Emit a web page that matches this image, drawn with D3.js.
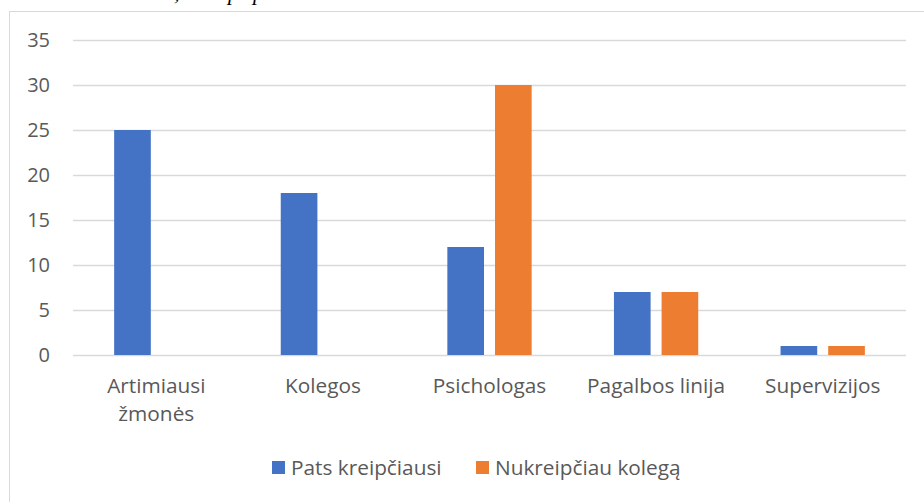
<!DOCTYPE html>
<html><head><meta charset="utf-8">
<script src="https://cdn.jsdelivr.net/npm/d3@7/dist/d3.min.js"></script>
<style>body{margin:0;background:#fff}svg{display:block}</style>
</head><body>
<svg id="c" width="924" height="502"></svg>
<script>
const categories = ["Artimiausi žmonės", "Kolegos", "Psichologas", "Pagalbos linija", "Supervizijos"];
const seriesNames = ["Pats kreipčiausi", "Nukreipčiau kolegą"];
const patsKreipciausi = [25, 18, 12, 7, 1];
const nukreipciauKolega = [0, 0, 30, 7, 1];
const yTicks = [0, 5, 10, 15, 20, 25, 30, 35];
const colors = ["#4472C4", "#ED7D31"];

(function () {
const svg = d3.select("#c");
const font = "'Open Sans', sans-serif";
const fs = 20.8;

// cut-off caption fragment at the very top
const frag = svg.append("text").attr("font-family", "'Liberation Serif', serif").attr("font-style", "italic")
  .attr("font-size", 22).attr("fill", "#000").attr("y", 0);
[[174, ","], [228, "p"], [253, "p"]].forEach(([x, t]) => frag.append("tspan").attr("x", x).text(t));

// chart border
svg.append("rect").attr("x", 9.5).attr("y", 11.5).attr("width", 930).attr("height", 520)
  .attr("fill", "none").attr("stroke", "#D9D9D9").attr("stroke-width", 1);

const pl = 73, pr = 906, pt = 40, pb = 355;
const x = d3.scaleBand().domain(categories).range([pl, pr]).padding(0);
const y = d3.scaleLinear().domain([0, 35]).range([pb, pt]);
const bw = x.bandwidth() * 0.22, gap = x.bandwidth() * 0.066;

// gridlines
svg.append("g").selectAll("line").data(yTicks).join("line")
  .attr("x1", pl).attr("x2", pr)
  .attr("y1", d => Math.round(y(d)) + 0.5).attr("y2", d => Math.round(y(d)) + 0.5)
  .attr("stroke", "#D9D9D9").attr("stroke-width", 1.3);

// y axis labels
const yAxis = d3.axisLeft(y).tickValues(yTicks).tickSize(0).tickPadding(0).tickFormat(d3.format("d"));
const yg = svg.append("g").attr("transform", `translate(50,0)`).call(yAxis);
yg.select(".domain").remove();
yg.selectAll("text").attr("font-family", font).attr("font-size", 20).attr("fill", "#595959");

// bars
const series = [patsKreipciausi, nukreipciauKolega];
series.forEach((vals, si) => {
  svg.append("g").selectAll("rect").data(categories).join("rect")
    .attr("x", (c) => x(c) + x.bandwidth() / 2 - bw - gap / 2 + si * (bw + gap))
    .attr("width", bw)
    .attr("y", (c, i) => y(vals[i]))
    .attr("height", (c, i) => y(0) - y(vals[i]))
    .attr("fill", colors[si]);
});

// x labels
const xl = svg.append("g");
categories.forEach(c => {
  const t = xl.append("text").attr("font-family", font).attr("font-size", fs).attr("fill", "#595959")
    .attr("text-anchor", "middle");
  const cx = x(c) + x.bandwidth() / 2;
  const words = c === "Artimiausi žmonės" ? ["Artimiausi", "žmonės"] : [c];
  words.forEach((w, i) => t.append("tspan").attr("x", cx).attr("y", 393 + i * 28).text(w));
});

// legend
const lg = svg.append("g");
const legendX = [272, 476];
seriesNames.forEach((n, i) => {
  lg.append("rect").attr("x", legendX[i]).attr("y", 461).attr("width", 13).attr("height", 13).attr("fill", colors[i]);
  lg.append("text").attr("x", legendX[i] + 19).attr("y", 475).attr("font-family", font).attr("font-size", fs)
    .attr("fill", "#595959").text(n);
});
})();
</script>
</body></html>
